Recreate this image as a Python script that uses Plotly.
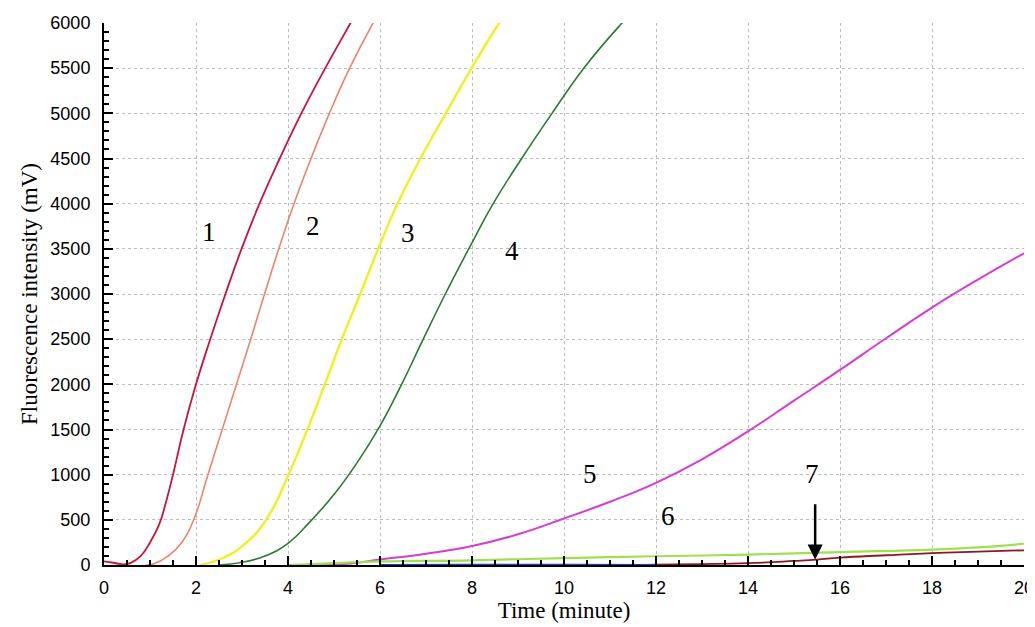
import plotly.graph_objects as go

# ---- data ----
t1 = [0.0, 0.2, 0.4, 0.57, 0.8, 1.0, 1.2, 1.36, 1.5, 1.73, 2.0, 2.31, 2.64, 2.99, 3.38, 3.82, 4.29, 4.81, 5.36, 5.55]
y1 = [40, 25, 8, 20, 100, 250, 450, 720, 1000, 1500, 2000, 2500, 3000, 3500, 4000, 4500, 5000, 5500, 6000, 6170]

t2 = [0.9, 1.07, 1.4, 1.69, 1.95, 2.26, 2.57, 2.88, 3.19, 3.49, 3.80, 4.13, 4.5, 4.9, 5.34, 5.85, 6.0]
y2 = [0, 10, 100, 250, 500, 1000, 1500, 2000, 2500, 3000, 3500, 4000, 4500, 5000, 5500, 6000, 6130]

t3 = [2.1, 2.6, 3.1, 3.55, 4.01, 4.42, 4.8, 5.17, 5.57, 5.96, 6.38, 6.88, 7.43, 7.99, 8.59, 8.8]
y3 = [0, 80, 250, 520, 1000, 1500, 2000, 2500, 3000, 3500, 4000, 4500, 5000, 5500, 6000, 6150]

t4 = [2.5, 3.0, 3.5, 4.0, 4.48, 5.0, 5.5, 6.0, 6.47, 6.94, 7.42, 7.93, 8.46, 9.08, 9.74, 10.43, 11.26, 11.5]
y4 = [0, 30, 100, 240, 480, 780, 1130, 1540, 2000, 2500, 3000, 3500, 4000, 4500, 5000, 5500, 6000, 6130]

t5 = [4.5, 5.3, 6, 7, 8, 9, 10, 11, 12, 13, 14, 15, 16, 17, 18, 19, 20]
y5 = [0, 15, 60, 125, 210, 340, 515, 700, 910, 1170, 1480, 1820, 2160, 2510, 2850, 3160, 3450]

t6 = [4.0, 5.0, 6, 8, 10, 12, 14, 16, 18, 19, 20]
y6 = [0, 20, 40, 52, 77, 97, 115, 143, 170, 195, 235]

t7 = [11.5, 12, 13, 14, 15, 15.5, 16, 17, 18, 19, 20]
y7 = [0, 5, 10, 20, 45, 60, 82, 108, 132, 148, 163]

t8 = [6, 8, 10, 12]
y8 = [3, 6, 6, 3]

series = [
    ("1", t1, y1, "#c8143a", 1.8),
    ("2", t2, y2, "#e8866a", 1.6),
    ("3", t3, y3, "#f0f020", 2.4),
    ("4", t4, y4, "#2a7a32", 1.6),
    ("5", t5, y5, "#d43cd4", 2.0),
    ("6", t6, y6, "#a0e050", 2.2),
    ("7", t7, y7, "#8b1a22", 1.8),
    ("base", t8, y8, "#2040c0", 1.5),
]

labels = ["1", "2", "3", "4", "5", "6", "7"]
label_x = [2.28, 4.54, 6.61, 8.87, 10.57, 12.26, 15.39]
label_y = [3690, 3755, 3680, 3480, 1010, 540, 1010]

arrow_x = 15.46
arrow_tail = 690
arrow_head = 60

fig = go.Figure()
for name, t, y, c, w in series:
    fig.add_trace(go.Scatter(x=t, y=y, mode="lines", name=name,
                             line=dict(color=c, width=w, shape="spline", smoothing=1.3),
                             showlegend=False, hoverinfo="skip"))

for lab, lx, ly in zip(labels, label_x, label_y):
    fig.add_annotation(x=lx, y=ly, text=lab, showarrow=False,
                       font=dict(family="Liberation Serif", size=27, color="black"))

fig.add_annotation(x=arrow_x, y=arrow_head, ax=arrow_x, ay=arrow_tail,
                   xref="x", yref="y", axref="x", ayref="y",
                   text="", showarrow=True, arrowhead=2, arrowsize=1.2,
                   arrowwidth=2.5, arrowcolor="black")

axis_common = dict(
    showline=True, linecolor="black", linewidth=2,
    ticks="inside", tickcolor="black", tickwidth=2,
    showgrid=True, gridcolor="#bcbcbc", griddash="dot", gridwidth=1.2,
    zeroline=False, automargin=False, ticklabeloverflow="allow",
    tickfont=dict(family="Liberation Sans", size=18, color="black"),
    title_font=dict(family="Liberation Serif", size=23, color="black"),
)

fig.update_xaxes(range=[0, 20], dtick=2, tick0=0, ticklen=9,
                 minor=dict(dtick=0.5, ticks="inside", ticklen=5, tickcolor="black", tickwidth=2, showgrid=False),
                 title_text="Time (minute)", title_standoff=2, ticklabelstandoff=5,
                 **axis_common)
fig.update_yaxes(range=[0, 6000], dtick=500, tick0=0, ticklen=9,
                 minor=dict(dtick=100, ticks="inside", ticklen=5, tickcolor="black", tickwidth=2, showgrid=False),
                 title_text="Fluorescence intensity (mV)", title_standoff=6, ticklabelstandoff=8,
                 **axis_common)

# the page body has an 8px margin, so the figure is offset by (8, 8)
fig.update_layout(
    width=1027, height=619,
    margin=dict(l=96, r=11, t=15, b=62),
    plot_bgcolor="white", paper_bgcolor="white",
)

fig.write_html("out.html")
